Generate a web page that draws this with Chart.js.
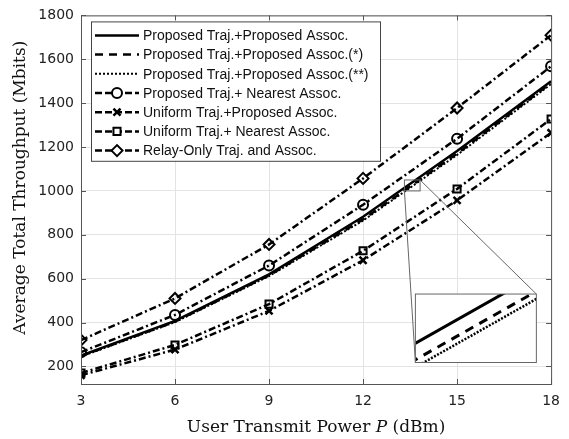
<!DOCTYPE html>
<html>
<head>
<meta charset="utf-8">
<script src="https://cdn.jsdelivr.net/npm/chart.js@4.4.0/dist/chart.umd.min.js"></script>
<style>
    body { margin: 0; background: #fff; }
    #wrap { width: 569px; height: 439px; }
</style>
</head>
<body>
<div id="wrap"><canvas id="lineChart" width="569" height="439"></canvas></div>
<script>
// data
const power = [3, 6, 9, 12, 15, 18];
const yTicks = [200, 400, 600, 800, 1000, 1200, 1400, 1600, 1800];

const propProp = [250, 408, 620, 882, 1182, 1500];
const propPropStar = [247, 404, 615, 870, 1170, 1492];
const propPropStar2 = [245, 402, 612, 865, 1164, 1487];
const propNearest = [265, 435, 660, 937, 1238, 1568];
const uniProp = [160, 277, 453, 684, 957, 1265];
const uniNearest = [170, 298, 484, 727, 1009, 1328];
const relayOnly = [320, 510, 756, 1057, 1378, 1710];

const labels = [
    'Proposed Traj.+Proposed Assoc.',
    'Proposed Traj.+Proposed Assoc.(*)',
    'Proposed Traj.+Proposed Assoc.(**)',
    'Proposed Traj.+ Nearest Assoc.',
    'Uniform Traj.+Proposed Assoc.',
    'Uniform Traj.+ Nearest Assoc.',
    'Relay-Only Traj. and Assoc.'
];

// zoomed region (data units) and inset placement (data units of main axes)
const zoomX = [13.32, 13.82];
const zoomY = [1000, 1050];
const insetX = [13.67, 17.53];
const insetY = [218, 530];

const dashDot = [7, 3, 2, 3];

function series(label, values, extra) {
    return Object.assign({
        label: label,
        data: power.map((p, i) => ({x: p, y: values[i]})),
        borderColor: '#000',
        backgroundColor: 'rgba(0,0,0,0)',
        pointBackgroundColor: 'rgba(0,0,0,0)',
        pointBorderColor: '#000',
        borderWidth: 2.5,
        pointRadius: 0,
        pointBorderWidth: 2,
        tension: 0
    }, extra);
}

const datasets = [
    series(labels[0], propProp, {}),
    series(labels[1], propPropStar, {borderDash: [8, 6]}),
    series(labels[2], propPropStar2, {borderDash: [2, 2], borderWidth: 2}),
    series(labels[3], propNearest, {borderDash: dashDot, pointStyle: 'circle', pointRadius: 5}),
    series(labels[4], uniProp, {borderDash: dashDot, pointStyle: 'crossRot', pointRadius: 5, pointBorderWidth: 2.5}),
    series(labels[5], uniNearest, {borderDash: dashDot, pointStyle: 'rect', pointRadius: 5}),
    series(labels[6], relayOnly, {borderDash: dashDot, pointStyle: 'rectRot', pointRadius: 5.5})
];

const frameColor = '#555';

// box round the plot, inward ticks, axis titles
const framePlugin = {
    id: 'frame',
    afterDraw(chart) {
        const ctx = chart.ctx;
        const a = chart.chartArea;
        const xs = chart.scales.x, ys = chart.scales.y;
        ctx.save();
        ctx.strokeStyle = frameColor;
        ctx.lineWidth = 1;
        ctx.strokeRect(a.left + 0.5, a.top + 0.5, a.right - a.left, a.bottom - a.top);
        ctx.beginPath();
        power.forEach(p => {
            const px = Math.round(xs.getPixelForValue(p)) + 0.5;
            ctx.moveTo(px, a.bottom); ctx.lineTo(px, a.bottom - 5);
            ctx.moveTo(px, a.top); ctx.lineTo(px, a.top + 5);
        });
        yTicks.forEach(v => {
            const py = Math.round(ys.getPixelForValue(v)) + 0.5;
            ctx.moveTo(a.left, py); ctx.lineTo(a.left + 5, py);
            ctx.moveTo(a.right, py); ctx.lineTo(a.right - 5, py);
        });
        ctx.stroke();

        // axis titles (serif, italic P)
        ctx.fillStyle = '#111';
        ctx.textBaseline = 'alphabetic';
        const f = '17px "DejaVu Serif"';
        const fi = 'italic 17px "DejaVu Serif"';
        const parts = [['User Transmit Power ', f], ['P', fi], [' (dBm)', f]];
        let total = 0;
        parts.forEach(pt => { ctx.font = pt[1]; total += ctx.measureText(pt[0]).width; });
        let x = (a.left + a.right) / 2 - total / 2;
        parts.forEach(pt => {
            ctx.font = pt[1];
            ctx.fillText(pt[0], x, 432);
            x += ctx.measureText(pt[0]).width;
        });
        ctx.translate(25, (a.top + a.bottom) / 2 - 12);
        ctx.rotate(-Math.PI / 2);
        ctx.font = f;
        ctx.textAlign = 'center';
        ctx.fillText('Average Total Throughput (Mbits)', 0, 0);
        ctx.restore();
    }
};

// zoomed inset of the three overlapping curves
const insetPlugin = {
    id: 'inset',
    afterDraw(chart) {
        const ctx = chart.ctx;
        const xs = chart.scales.x, ys = chart.scales.y;
        const bx0 = xs.getPixelForValue(zoomX[0]), bx1 = xs.getPixelForValue(zoomX[1]);
        const by0 = ys.getPixelForValue(zoomY[1]), by1 = ys.getPixelForValue(zoomY[0]);
        const ix0 = xs.getPixelForValue(insetX[0]), ix1 = xs.getPixelForValue(insetX[1]);
        const iy0 = ys.getPixelForValue(insetY[1]), iy1 = ys.getPixelForValue(insetY[0]);
        ctx.save();
        ctx.strokeStyle = '#666';
        ctx.lineWidth = 1;
        ctx.strokeRect(bx0, by0, bx1 - bx0, by1 - by0);
        ctx.beginPath();
        ctx.moveTo(bx0, by1); ctx.lineTo(ix0, iy1);
        ctx.moveTo(bx1, by0); ctx.lineTo(ix1, iy0);
        ctx.stroke();
        ctx.fillStyle = '#fff';
        ctx.fillRect(ix0, iy0, ix1 - ix0, iy1 - iy0);

        ctx.save();
        ctx.beginPath();
        ctx.rect(ix0, iy0, ix1 - ix0, iy1 - iy0);
        ctx.clip();
        const mx = v => ix0 + (v - zoomX[0]) / (zoomX[1] - zoomX[0]) * (ix1 - ix0);
        const my = v => iy1 - (v - zoomY[0]) / (zoomY[1] - zoomY[0]) * (iy1 - iy0);
        [0, 1, 2].forEach(k => {
            const ds = chart.data.datasets[k];
            ctx.beginPath();
            ctx.strokeStyle = '#000';
            ctx.lineWidth = ds.borderWidth + 0.5;
            ctx.setLineDash(k === 1 ? [9, 7] : (k === 2 ? [2, 1.5] : []));
            ds.data.forEach((pt, i) => {
                if (i === 0) ctx.moveTo(mx(pt.x), my(pt.y));
                else ctx.lineTo(mx(pt.x), my(pt.y));
            });
            ctx.stroke();
        });
        ctx.restore();
        ctx.setLineDash([]);
        ctx.strokeStyle = '#666';
        ctx.strokeRect(ix0, iy0, ix1 - ix0, iy1 - iy0);
        ctx.restore();
    }
};

// legend box inside the plot, top-left
const legendPlugin = {
    id: 'boxLegend',
    afterDraw(chart) {
        const ctx = chart.ctx;
        const a = chart.chartArea;
        const left = a.left + 10, top = a.top + 6;
        const w = 289, rowH = 19.2;
        const h = rowH * 7 + 5;
        ctx.save();
        ctx.fillStyle = '#fff';
        ctx.fillRect(left, top, w, h);
        ctx.strokeStyle = '#444';
        ctx.lineWidth = 1;
        ctx.strokeRect(left + 0.5, top + 0.5, w, h);
        ctx.font = '14px "Liberation Sans", Arial, sans-serif';
        ctx.textBaseline = 'middle';
        chart.data.datasets.forEach((ds, i) => {
            const y = top + 14 + i * rowH;
            ctx.strokeStyle = '#000';
            ctx.lineWidth = ds.borderWidth;
            ctx.setLineDash(ds.borderDash ? (ds.borderDash === dashDot ? [7, 3] : ds.borderDash) : []);
            ctx.beginPath();
            ctx.moveTo(left + 4, y);
            ctx.lineTo(left + 48, y);
            ctx.stroke();
            ctx.setLineDash([]);
            if (ds.pointRadius > 0) {
                ctx.fillStyle = '#fff';
                ctx.lineWidth = ds.pointBorderWidth;
                Chart.helpers.drawPoint(ctx, {
                    pointStyle: ds.pointStyle,
                    radius: ds.pointRadius,
                    borderWidth: ds.pointBorderWidth,
                    rotation: 0
                }, left + 26, y);
            }
            ctx.fillStyle = '#111';
            ctx.fillText(ds.label, left + 52, y + 1);
        });
        ctx.restore();
    }
};

document.addEventListener('DOMContentLoaded', function () {
    const canvas = document.getElementById('lineChart');
    new Chart(canvas, {
        type: 'line',
        data: {datasets: datasets},
        options: {
            responsive: false,
            animation: false,
            layout: {padding: {top: 12, right: 10, bottom: 0, left: 0}},
            scales: {
                x: {
                    type: 'linear',
                    min: 3,
                    max: 18,
                    afterBuildTicks: s => { s.ticks = power.map(v => ({value: v})); },
                    afterFit: s => { s.height = 55; },
                    grid: {color: '#e3e3e3', drawTicks: false},
                    border: {display: false},
                    ticks: {
                        padding: 9,
                        color: '#222',
                        font: {family: 'DejaVu Sans', size: 14},
                        maxRotation: 0,
                        callback: v => String(v)
                    }
                },
                y: {
                    min: 120,
                    max: 1800,
                    afterBuildTicks: s => { s.ticks = yTicks.map(v => ({value: v})); },
                    afterFit: s => { s.width = 81; },
                    grid: {color: '#e3e3e3', drawTicks: false},
                    border: {display: false},
                    ticks: {
                        padding: 7,
                        color: '#222',
                        font: {family: 'DejaVu Sans', size: 14},
                        callback: v => String(v)
                    }
                }
            },
            plugins: {
                legend: {display: false},
                tooltip: {enabled: false}
            }
        },
        plugins: [framePlugin, insetPlugin, legendPlugin]
    });
});
</script>
</body>
</html>
